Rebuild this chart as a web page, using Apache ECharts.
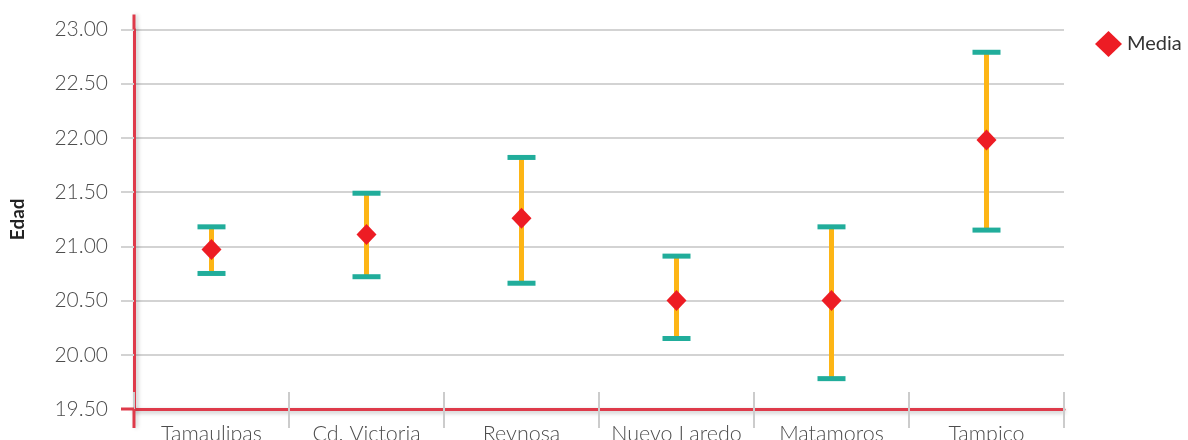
<!DOCTYPE html>
<html>
<head>
<meta charset="utf-8">
<script src="https://cdn.jsdelivr.net/npm/echarts@6/dist/echarts.min.js"></script>
<style>
html,body{margin:0;padding:0;background:#fff;}
#chart{width:1188px;height:440px;}
</style>
</head>
<body>
<div id="chart"></div>
<script>
// ---- data ----
const categories = ['Tamaulipas', 'Cd. Victoria', 'Reynosa', 'Nuevo Laredo', 'Matamoros', 'Tampico'];
const media      = [20.97, 21.11, 21.26, 20.50, 20.50, 21.98];
const lower      = [20.75, 20.72, 20.66, 20.15, 19.78, 21.15];
const upper      = [21.18, 21.49, 21.82, 20.91, 21.18, 22.79];
const yTicks     = [19.5, 23.0, 0.5]; // min, max, interval

const RED_AXIS = '#DE3A4A';
const GRID_GRAY = '#D3D3D3';
const FONT = 'Lato';

const chart = echarts.init(document.getElementById('chart'), null, {renderer: 'canvas'});

const errData = categories.map((c, i) => [i, lower[i], upper[i]]);

const option = {
  animation: false,
  backgroundColor: '#fff',
  grid: {left: 134, right: 124, top: 29.5, bottom: 31, containLabel: false, outerBoundsMode: 'none'},
  legend: {
    data: [{name: 'Media', icon: 'diamond'}],
    left: 1090, top: 26,
    itemWidth: 27, itemHeight: 26, itemGap: 10,
    textStyle: {fontFamily: FONT, fontSize: 20, color: '#333'}
  },
  xAxis: [{
    type: 'category',
    data: categories,
    boundaryGap: true,
    axisLine: {show: true, lineStyle: {color: RED_AXIS, width: 3,
      shadowColor: 'rgba(0,0,0,0.25)', shadowBlur: 4, shadowOffsetY: 2}},
    axisTick: {show: true, length: 19, lineStyle: {color: '#CCCCCC', width: 2}},
    axisLabel: {interval: 0, fontFamily: FONT, fontWeight: 300, fontSize: 21.5, color: '#4D4D4D', margin: 14},
    splitLine: {show: false}
  }, {
    type: 'category',
    data: categories,
    position: 'bottom',
    boundaryGap: true,
    axisLine: {show: false},
    axisTick: {show: true, inside: true, length: 17, lineStyle: {color: '#CCCCCC', width: 2}},
    axisLabel: {show: false},
    splitLine: {show: false}
  }],
  yAxis: {
    type: 'value',
    min: yTicks[0], max: yTicks[1], interval: yTicks[2],
    name: 'Edad',
    nameLocation: 'middle',
    nameRotate: 90,
    nameGap: 107,
    nameTextStyle: {fontFamily: FONT, fontWeight: 'bold', fontSize: 19, color: '#222'},
    axisLine: {show: true, lineStyle: {color: RED_AXIS, width: 3,
      shadowColor: 'rgba(0,0,0,0.25)', shadowBlur: 4, shadowOffsetX: 2}},
    axisTick: {show: true, length: 13, lineStyle: {color: GRID_GRAY, width: 2}},
    axisLabel: {fontFamily: FONT, fontWeight: 300, fontSize: 21, color: '#4D4D4D', margin: 26,
      formatter: v => v.toFixed(2)},
    splitLine: {show: true, lineStyle: {color: GRID_GRAY, width: 2}}
  },
  series: [{
    name: 'IC',
    type: 'custom',
    data: errData,
    z: 3,
    renderItem: function (params, api) {
      const x = api.value(0);
      const pLo = api.coord([x, api.value(1)]);
      const pHi = api.coord([x, api.value(2)]);
      const half = 14;
      return {
        type: 'group',
        children: [
          {type: 'line', shape: {x1: pLo[0], y1: pLo[1], x2: pHi[0], y2: pHi[1]},
            style: {stroke: '#FDB515', lineWidth: 5}},
          {type: 'line', shape: {x1: pHi[0] - half, y1: pHi[1], x2: pHi[0] + half, y2: pHi[1]},
            style: {stroke: '#21AD9B', lineWidth: 5}},
          {type: 'line', shape: {x1: pLo[0] - half, y1: pLo[1], x2: pLo[0] + half, y2: pLo[1]},
            style: {stroke: '#21AD9B', lineWidth: 5}}
        ]
      };
    }
  }, {
    name: 'Media',
    type: 'scatter',
    data: media,
    symbol: 'diamond',
    symbolSize: [20, 21],
    itemStyle: {color: '#ED1C24', opacity: 1},
    z: 5
  }]
};

chart.setOption(option);

// extend the red axis lines slightly beyond the plotting area, as in the reference
const pTop = chart.convertToPixel({gridIndex: 0}, [0, yTicks[1]]);
const pBot = chart.convertToPixel({gridIndex: 0}, [0, yTicks[0]]);
const axisX = chart.getModel().getComponent('grid', 0).coordinateSystem.getRect().x;
const axisStyle = {stroke: RED_AXIS, lineWidth: 3, shadowColor: 'rgba(0,0,0,0.2)', shadowBlur: 4, shadowOffsetX: 2};
chart.setOption({
  graphic: [
    {type: 'line', z: 10, shape: {x1: axisX, y1: pTop[1] - 15, x2: axisX, y2: pTop[1]}, style: axisStyle},
    {type: 'line', z: 10, shape: {x1: axisX, y1: pBot[1], x2: axisX, y2: pBot[1] + 19}, style: axisStyle},
    {type: 'line', z: 10, shape: {x1: axisX - 13, y1: pBot[1], x2: axisX, y2: pBot[1]}, style: {stroke: RED_AXIS, lineWidth: 3}}
  ]
});
</script>
</body>
</html>
